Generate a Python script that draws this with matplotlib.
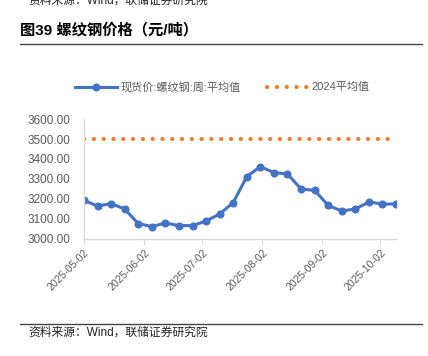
import matplotlib
matplotlib.use('Agg')
import matplotlib.pyplot as plt
import matplotlib.dates as mdates
import pandas as pd

plt.rcParams['font.family'] = ['Liberation Sans', 'Noto Sans CJK SC', 'DejaVu Sans']

# ---- data ----
dates = ['2025-05-02', '2025-05-09', '2025-05-16', '2025-05-23', '2025-05-30', '2025-06-06',
         '2025-06-13', '2025-06-20', '2025-06-27', '2025-07-04', '2025-07-11', '2025-07-18',
         '2025-07-25', '2025-08-01', '2025-08-08', '2025-08-15', '2025-08-22', '2025-08-29',
         '2025-09-05', '2025-09-12', '2025-09-19', '2025-09-26', '2025-10-03', '2025-10-10']
spot_price = [3193, 3165, 3177, 3150, 3077, 3062, 3080, 3067, 3067, 3090, 3125, 3182,
              3312, 3362, 3332, 3325, 3250, 3243, 3168, 3140, 3150, 3185, 3175, 3175]
avg_2024 = 3500
y_ticks = [3000, 3100, 3200, 3300, 3400, 3500, 3600]

series_name = '现货价:螺纹钢:周:平均值'
avg_name = '2024平均值'
title = '图39 螺纹钢价格（元/吨）'
source = '资料来源：Wind，联储证券研究院'

x = pd.to_datetime(dates)
W, H = 428, 356
fig = plt.figure(figsize=(W / 100, H / 100), dpi=100)

# axes placed in pixel units
ax = fig.add_axes([84 / W, 1 - 239 / H, (396 - 84) / W, (239 - 119) / H])
blue = '#4472C4'
orange = '#ED7D31'
grey = '#595959'

ax.plot(x, [avg_2024] * len(x), color=orange, lw=3, linestyle=(0, (0.05, 2.3)),
        solid_capstyle='round', dash_capstyle='round')
ax.plot(x, spot_price, color=blue, lw=2.2, marker='o', markersize=4.8)

ax.set_xlim(x[0], x[-1])
ax.set_ylim(3000, 3600)
ax.set_yticks(y_ticks)
ax.set_yticklabels(['%.2f' % v for v in y_ticks], fontsize=8.5, color=grey)
ax.xaxis.set_major_locator(mdates.MonthLocator(bymonthday=2))
ax.xaxis.set_major_formatter(mdates.DateFormatter('%Y-%m-%d'))
for lab in ax.get_xticklabels():
    lab.set_rotation(45)
    lab.set_ha('right')
    lab.set_rotation_mode('anchor')
    lab.set_fontsize(7.5)
    lab.set_color(grey)
ax.tick_params(axis='y', length=0, pad=10)
ax.tick_params(axis='x', length=4, width=0.8, color='#D9D9D9', pad=2)
for s in ['top', 'right']:
    ax.spines[s].set_visible(False)
ax.spines['left'].set_color('#D9D9D9')
ax.spines['bottom'].set_color('#D9D9D9')
ax.spines['left'].set_linewidth(1)
ax.spines['bottom'].set_linewidth(1)

# legend drawn in figure pixels
fig.add_artist(plt.Line2D([75 / W, 117 / W], [1 - 87 / H] * 2, color=blue, lw=2.2))
fig.add_artist(plt.Line2D([96 / W], [1 - 87 / H], color=blue, marker='o', markersize=4.8))
fig.text(121 / W, 1 - 87 / H, series_name, fontsize=8, color=grey, va='center')
fig.add_artist(plt.Line2D([267 / W, 309 / W], [1 - 87 / H] * 2, color=orange, lw=3,
                          linestyle=(0, (0.05, 2.3)), dash_capstyle='round'))
fig.text(311 / W, 1 - 87 / H, avg_name, fontsize=8, color=grey, va='center')

# header / footer
fig.text(28 / W, 1 - 1 / H, source, fontsize=8.5, color='#222222', va='center')
fig.text(20 / W, 1 - 30 / H, title, fontsize=11, fontweight='bold', color='black', va='center')
fig.add_artist(plt.Line2D([20 / W, 422 / W], [1 - 44 / H] * 2, color='#444444', lw=1))
fig.add_artist(plt.Line2D([20 / W, 422 / W], [1 - 324 / H] * 2, color='#444444', lw=1))
fig.text(28 / W, 1 - 333 / H, source, fontsize=8.5, color='#222222', va='center')

fig.savefig('out.png', dpi=100)
